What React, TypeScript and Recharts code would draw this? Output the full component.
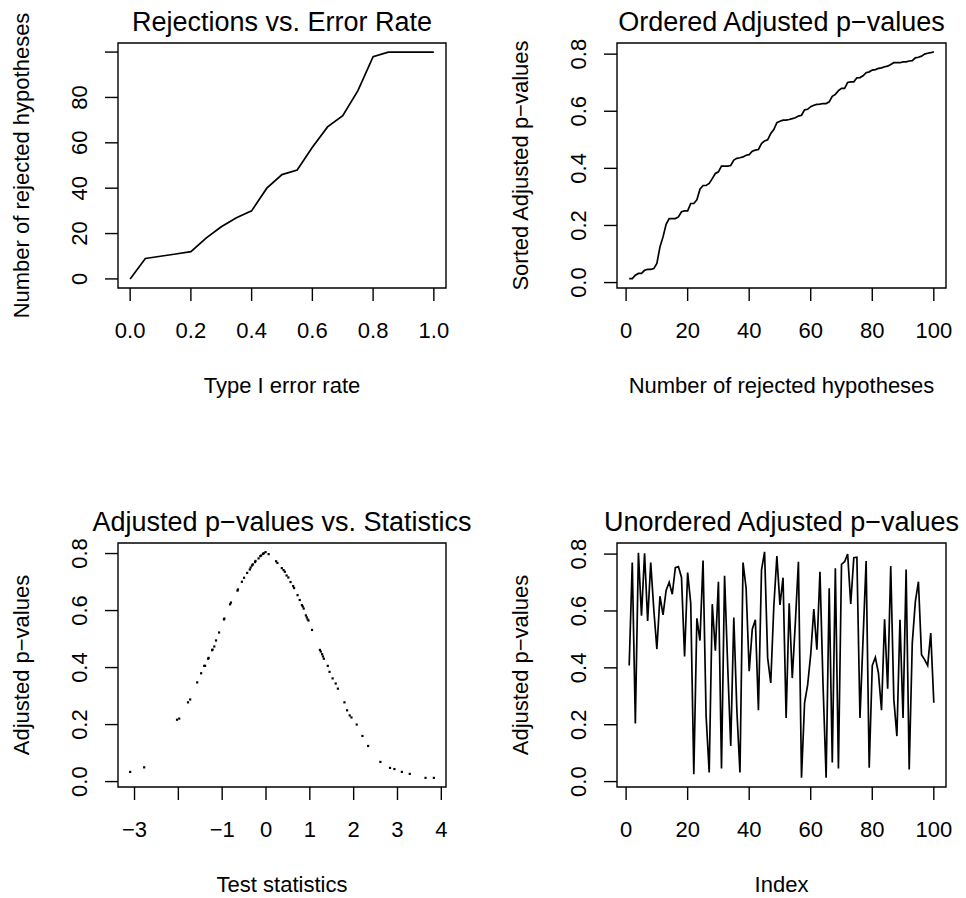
import React from 'react'
import { LineChart, Line, ScatterChart, Scatter, XAxis, YAxis, ReferenceArea } from 'recharts'

const FONT = '"Liberation Sans", Arial, Helvetica, sans-serif'

// Rejections vs. Error Rate
const errorRates = [0, 0.05, 0.1, 0.15, 0.2, 0.25, 0.3, 0.35, 0.4, 0.45, 0.5, 0.55, 0.6, 0.65, 0.7, 0.75, 0.8, 0.85, 0.9, 0.95, 1]
const rejections = [0, 9, 10, 11, 12, 18, 23, 27, 30, 40, 46, 48, 58, 67, 72, 83, 98, 100, 100, 100, 100]

// Ordered adjusted p-values (sorted)
const sortedAdjP = [
  0.014, 0.014, 0.026, 0.032, 0.032, 0.043, 0.046, 0.046, 0.049, 0.067,
  0.125, 0.160, 0.204, 0.224, 0.224, 0.224, 0.230, 0.248, 0.251, 0.251,
  0.277, 0.277, 0.290, 0.327, 0.340, 0.340, 0.347, 0.364, 0.382, 0.388,
  0.408, 0.408, 0.408, 0.410, 0.429, 0.435, 0.437, 0.440, 0.446, 0.448,
  0.460, 0.464, 0.466, 0.487, 0.496, 0.500, 0.522, 0.536, 0.560, 0.565,
  0.569, 0.569, 0.571, 0.574, 0.577, 0.583, 0.586, 0.605, 0.607, 0.616,
  0.621, 0.624, 0.625, 0.627, 0.627, 0.633, 0.652, 0.659, 0.672, 0.680,
  0.680, 0.701, 0.703, 0.703, 0.717, 0.718, 0.724, 0.735, 0.738, 0.744,
  0.746, 0.750, 0.752, 0.756, 0.758, 0.764, 0.770, 0.770, 0.770, 0.773,
  0.773, 0.776, 0.777, 0.787, 0.789, 0.793, 0.800, 0.803, 0.805, 0.808,
]

// Unordered adjusted p-values (in index order)
const adjP = [
  0.408, 0.770, 0.204, 0.805, 0.583, 0.803, 0.565, 0.770, 0.605, 0.466,
  0.652, 0.586, 0.672, 0.701, 0.659, 0.752, 0.756, 0.718, 0.440, 0.735,
  0.627, 0.026, 0.574, 0.496, 0.777, 0.230, 0.032, 0.624, 0.460, 0.703,
  0.046, 0.724, 0.410, 0.125, 0.577, 0.248, 0.032, 0.770, 0.680, 0.388,
  0.536, 0.569, 0.251, 0.744, 0.808, 0.435, 0.347, 0.616, 0.793, 0.621,
  0.717, 0.224, 0.627, 0.364, 0.560, 0.773, 0.014, 0.277, 0.340, 0.448,
  0.607, 0.464, 0.738, 0.340, 0.014, 0.680, 0.067, 0.750, 0.046, 0.764,
  0.773, 0.800, 0.625, 0.787, 0.789, 0.224, 0.500, 0.776, 0.049, 0.408,
  0.437, 0.382, 0.251, 0.571, 0.327, 0.758, 0.290, 0.160, 0.569, 0.224,
  0.746, 0.043, 0.487, 0.633, 0.703, 0.446, 0.429, 0.408, 0.522, 0.277,
]

// Adjusted p-values vs. test statistics
const testStats = [
  -3.10, -2.78, -2.03, -1.98, -1.78, -1.73, -1.57, -1.48, -1.41, -1.39,
  -1.32, -1.31, -1.23, -1.22, -1.18, -1.14, -1.07, -0.96, -0.95, -0.82,
  -0.80, -0.65, -0.64, -0.55, -0.50, -0.43, -0.37, -0.35, -0.32, -0.30,
  -0.25, -0.24, -0.17, -0.13, -0.11, -0.07, -0.05, -0.01, 0.06, 0.23,
  0.26, 0.36, 0.40, 0.43, 0.47, 0.51, 0.56, 0.62, 0.64, 0.72,
  0.77, 0.82, 0.84, 0.86, 0.91, 0.93, 0.95, 0.97, 1.05, 1.23,
  1.25, 1.28, 1.30, 1.32, 1.41, 1.45, 1.52, 1.59, 1.64, 1.79,
  1.85, 1.91, 1.95, 2.07, 2.20, 2.33, 2.61, 2.83, 2.93, 3.10,
  3.28, 3.64, 3.83,
]
const statPValues = [
  0.034, 0.050, 0.217, 0.221, 0.278, 0.288, 0.348, 0.380, 0.406, 0.406,
  0.431, 0.434, 0.461, 0.463, 0.474, 0.495, 0.523, 0.569, 0.572, 0.622,
  0.628, 0.670, 0.674, 0.701, 0.715, 0.732, 0.744, 0.751, 0.758, 0.762,
  0.770, 0.774, 0.783, 0.791, 0.793, 0.799, 0.801, 0.805, 0.798, 0.773,
  0.767, 0.749, 0.742, 0.736, 0.723, 0.716, 0.700, 0.686, 0.679, 0.654,
  0.637, 0.619, 0.614, 0.607, 0.583, 0.576, 0.569, 0.565, 0.532, 0.462,
  0.456, 0.447, 0.439, 0.431, 0.406, 0.385, 0.362, 0.344, 0.326, 0.278,
  0.250, 0.232, 0.225, 0.200, 0.160, 0.125, 0.069, 0.048, 0.044, 0.034,
  0.027, 0.013, 0.013,
]

// ticks and labels
const rateTicks = [0, 0.2, 0.4, 0.6, 0.8, 1]
const rateLabels = ['0.0', '0.2', '0.4', '0.6', '0.8', '1.0']
const countTicks = [0, 20, 40, 60, 80, 100]
const countLabels = ['0', '20', '40', '60', '80', '']
const pTicks = [0, 0.2, 0.4, 0.6, 0.8]
const pLabels = ['0.0', '0.2', '0.4', '0.6', '0.8']
const idxTicks = [0, 20, 40, 60, 80, 100]
const idxLabels = ['0', '20', '40', '60', '80', '100']
const statTicks = [-3, -2, -1, 0, 1, 2, 3, 4]
const statLabels = ['\u22123', '', '\u22121', '0', '1', '2', '3', '4']

type Box = { l: number; t: number; r: number; b: number }

const ML = 118
const MT = 43
const MR = 12
const MB = 112
const YW = 40
const XH = 30

const makeXTick = (ticks: number[], labels: string[], baseY: number) => (props: any) => {
  const s = labels[ticks.indexOf(props.payload.value)] ?? ''
  return (
    <text x={props.x} y={baseY} textAnchor="middle" fontSize={22} fontFamily={FONT} fill="#000">
      {s}
    </text>
  )
}

const makeYTick = (ticks: number[], labels: string[]) => (props: any) => {
  const s = labels[ticks.indexOf(props.payload.value)] ?? ''
  const bx = ML - 31
  return (
    <text
      x={bx}
      y={props.y}
      transform={`rotate(-90 ${bx} ${props.y})`}
      textAnchor="middle"
      fontSize={22}
      fontFamily={FONT}
      fill="#000"
    >
      {s}
    </text>
  )
}

const dotShape = (p: any) => <rect x={p.cx - 1.1} y={p.cy - 1.1} width={2.2} height={2.2} fill="#000" />

interface PanelProps {
  box: Box
  kind: 'line' | 'dots'
  data: { x: number; y: number }[]
  xDomain: [number, number]
  yDomain: [number, number]
  xTicks: number[]
  xLabels: string[]
  yTicks: number[]
  yLabels: string[]
}

function Panel({ box, kind, data, xDomain, yDomain, xTicks, xLabels, yTicks, yLabels }: PanelProps) {
  const pw = box.r - box.l
  const ph = box.b - box.t
  const W = pw + ML + MR
  const H = ph + MT + MB
  const margin = { top: MT, right: MR, bottom: MB - XH, left: ML - YW }
  const axes = [
    <XAxis
      key="x"
      type="number"
      dataKey="x"
      domain={xDomain}
      allowDataOverflow
      ticks={xTicks}
      interval={0}
      height={XH}
      axisLine={false}
      tickLine={{ stroke: '#000', strokeWidth: 1.4 }}
      tickSize={13}
      tick={makeXTick(xTicks, xLabels, MT + ph + 50)}
    />,
    <YAxis
      key="y"
      type="number"
      dataKey="y"
      domain={yDomain}
      allowDataOverflow
      ticks={yTicks}
      interval={0}
      width={YW}
      axisLine={false}
      tickLine={{ stroke: '#000', strokeWidth: 1.4 }}
      tickSize={13}
      tick={makeYTick(yTicks, yLabels)}
    />,
    <ReferenceArea
      key="box"
      x1={xDomain[0]}
      x2={xDomain[1]}
      y1={yDomain[0]}
      y2={yDomain[1]}
      fill="none"
      fillOpacity={0}
      stroke="#000"
      strokeWidth={1.4}
    />,
  ]
  return (
    <div style={{ position: 'absolute', left: box.l - ML, top: box.t - MT }}>
      {kind === 'line' ? (
        <LineChart width={W} height={H} data={data} margin={margin}>
          {axes}
          <Line type="linear" dataKey="y" stroke="#000" strokeWidth={1.7} dot={false} isAnimationActive={false} />
        </LineChart>
      ) : (
        <ScatterChart width={W} height={H} margin={margin}>
          {axes}
          <Scatter data={data} dataKey="y" shape={dotShape} isAnimationActive={false} />
        </ScatterChart>
      )}
    </div>
  )
}

const boxes: Box[] = [
  { l: 118, t: 43, r: 446, b: 288 },
  { l: 617, t: 43, r: 946, b: 288 },
  { l: 118, t: 543, r: 446, b: 787 },
  { l: 617, t: 543, r: 946, b: 787 },
]

const titles = ['Rejections vs. Error Rate', 'Ordered Adjusted p\u2212values', 'Adjusted p\u2212values vs. Statistics', 'Unordered Adjusted p\u2212values']
const xTitles = ['Type I error rate', 'Number of rejected hypotheses', 'Test statistics', 'Index']
const yTitles = ['Number of rejected hypotheses', 'Sorted Adjusted p\u2212values', 'Adjusted p\u2212values', 'Adjusted p\u2212values']

export default function App() {
  const rateData = errorRates.map((x, i) => ({ x, y: rejections[i] }))
  const sortedData = sortedAdjP.map((y, i) => ({ x: i + 1, y }))
  const statData = testStats.map((x, i) => ({ x, y: statPValues[i] }))
  const indexData = adjP.map((y, i) => ({ x: i + 1, y }))

  return (
    <div style={{ position: 'absolute', left: 0, top: 0, width: 966, height: 898, background: '#fff', fontFamily: FONT }}>
      <Panel box={boxes[0]} kind="line" data={rateData} xDomain={[-0.04, 1.04]} yDomain={[-4, 104]}
        xTicks={rateTicks} xLabels={rateLabels} yTicks={countTicks} yLabels={countLabels} />
      <Panel box={boxes[1]} kind="line" data={sortedData} xDomain={[-2.96, 103.96]} yDomain={[-0.019, 0.839]}
        xTicks={idxTicks} xLabels={idxLabels} yTicks={pTicks} yLabels={pLabels} />
      <Panel box={boxes[2]} kind="dots" data={statData} xDomain={[-3.377, 4.107]} yDomain={[-0.019, 0.837]}
        xTicks={statTicks} xLabels={statLabels} yTicks={pTicks} yLabels={pLabels} />
      <Panel box={boxes[3]} kind="line" data={indexData} xDomain={[-2.96, 103.96]} yDomain={[-0.019, 0.839]}
        xTicks={idxTicks} xLabels={idxLabels} yTicks={pTicks} yLabels={pLabels} />

      <svg width={966} height={898} style={{ position: 'absolute', left: 0, top: 0, pointerEvents: 'none' }}>
        {boxes.map((b, i) => {
          const cx = (b.l + b.r) / 2
          const cy = (b.t + b.b) / 2
          const yx = b.l - 89
          return (
            <g key={i} fontFamily={FONT} fill="#000">
              <text x={cx} y={b.t - 12.5} textAnchor="middle" fontSize={27}>{titles[i]}</text>
              <text x={cx} y={b.b + 105} textAnchor="middle" fontSize={22}>{xTitles[i]}</text>
              <text x={yx} y={cy} textAnchor="middle" fontSize={22} transform={`rotate(-90 ${yx} ${cy})`}>{yTitles[i]}</text>
            </g>
          )
        })}
      </svg>
    </div>
  )
}
